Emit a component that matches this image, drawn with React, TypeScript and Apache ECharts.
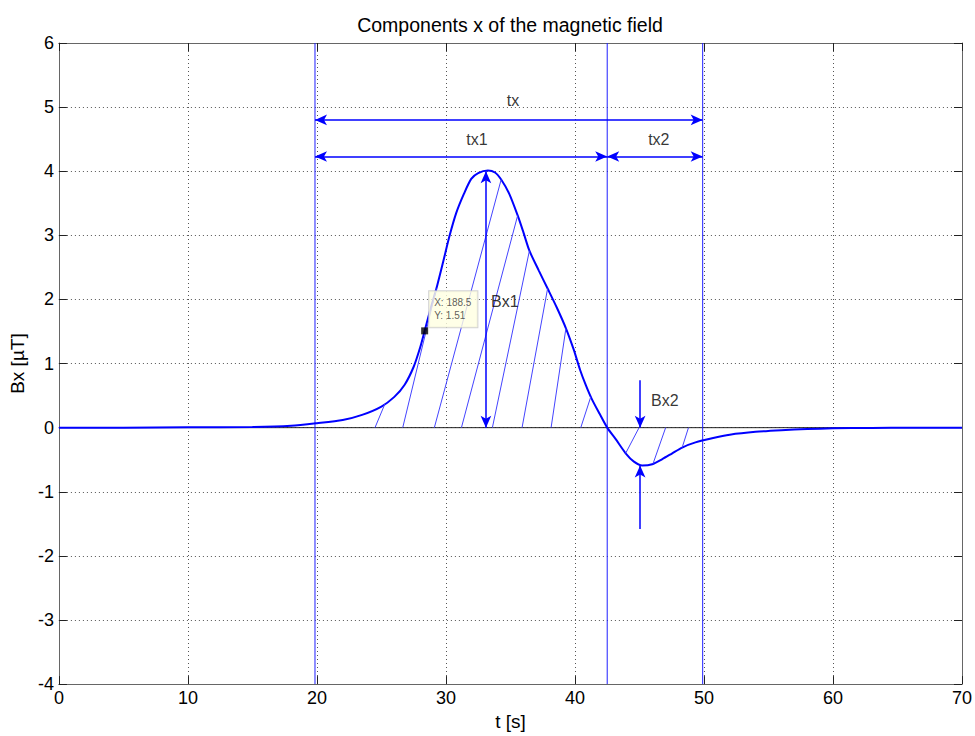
import React, { useEffect, useRef } from "react";
import * as echarts from "echarts";

// ---- data ----
const curveT = [0, 5, 10, 15, 18, 20, 22, 23.5, 25, 26, 26.8, 27.5, 28, 28.35, 28.8, 29.26, 29.8, 30.29, 30.8, 31.4, 31.96, 32.5, 33.25, 33.8, 34.28, 34.9, 35.56, 36.0, 36.47, 37.2, 37.88, 38.6, 39.3, 39.9, 40.4, 40.85, 41.3, 41.9, 42.5, 43.16, 43.93, 44.57, 45.22, 45.99, 46.77, 47.54, 48.31, 49.34, 50.63, 52.0, 54, 56, 58, 60, 63, 66, 70];
const curveB = [0, 0, 0.005, 0.01, 0.03, 0.07, 0.12, 0.2, 0.33, 0.48, 0.67, 0.95, 1.25, 1.51, 1.85, 2.17, 2.6, 3.0, 3.35, 3.65, 3.88, 3.97, 4.01, 3.98, 3.87, 3.65, 3.31, 3.05, 2.76, 2.45, 2.17, 1.87, 1.55, 1.22, 0.9, 0.66, 0.45, 0.22, 0.0, -0.18, -0.4, -0.53, -0.59, -0.57, -0.49, -0.4, -0.31, -0.23, -0.165, -0.11, -0.065, -0.04, -0.022, -0.01, -0.004, 0, 0];

const xTicks = [0, 10, 20, 30, 40, 50, 60, 70];
const yTicks = [-4, -3, -2, -1, 0, 1, 2, 3, 4, 5, 6];

// vertical marker lines (t)
const markerT = [19.85, 42.5, 49.9];

// horizontal double arrows: from t, to t, level B
const spanFrom = [19.85, 19.85, 42.5];
const spanTo = [49.9, 42.5, 49.9];
const spanLevel = [4.8, 4.23, 4.23];

// vertical arrows: t, fromB, toB, double-headed
const vArrowT = [33.1, 45.05, 45.05];
const vArrowFrom = [0, 0.74, -1.58];
const vArrowTo = [4.0, 0, -0.59];
const vArrowDouble = [true, false, false];

// hatch lines: start on zero line at t0, end on curve at t1
const hatchT0 = [24.5, 26.65, 29.1, 31.2, 33.6, 35.9, 38.15, 40.45, 44.97, 47.03, 48.8];
const hatchT1 = [25.27, 29.26, 34.28, 35.56, 36.47, 37.88, 39.3, 41.23, 43.93, 46.05, 48.31];

// annotation texts
const noteText = ["tx", "tx1", "tx2", "Bx1", "Bx2"];
const noteT = [35.2, 32.4, 46.5, 33.5, 45.9];
const noteB = [5.1, 4.5, 4.5, 1.97, 0.42];
const noteAlign = ["center", "center", "center", "left", "left"];

// data tip
const tipT = 28.35;
const tipB = 1.51;
const tipLabel = "X: 188.5\nY: 1.51";

const FONT = "'Liberation Sans', Arial, Helvetica, sans-serif";

function interp(t: number): number {
  for (let i = 0; i < curveT.length - 1; i++) {
    if (t >= curveT[i] && t <= curveT[i + 1]) {
      const f = (t - curveT[i]) / (curveT[i + 1] - curveT[i]);
      return curveB[i] + f * (curveB[i + 1] - curveB[i]);
    }
  }
  return 0;
}

export default function App() {
  const ref = useRef<HTMLDivElement>(null);
  useEffect(() => {
    if (!ref.current) return;
    const chart = echarts.init(ref.current, undefined, { renderer: "svg" });

    const curveData = curveT.map((t, i) => [t, curveB[i]]);

    const hatchLines = hatchT0.map((t0, i) => [
      { coord: [t0, 0] },
      { coord: [hatchT1[i], interp(hatchT1[i])] },
    ]);

    const spanLines = spanFrom.map((f, i) => [
      { coord: [f, spanLevel[i]] },
      { coord: [spanTo[i], spanLevel[i]] },
    ]);
    const vLines = vArrowT.map((t, i) => [
      { coord: [t, vArrowFrom[i]], symbol: vArrowDouble[i] ? "arrow" : "none" },
      { coord: [t, vArrowTo[i]], symbol: "arrow" },
    ]);

    const markerSeries = markerT.map((t, i) => ({
      name: "marker" + i,
      type: "line",
      data: [
        [t, -4],
        [t, 6],
      ],
      showSymbol: false,
      symbol: "none",
      silent: true,
      z: 3,
      color: "#1f1fff",
      lineStyle: { color: "#1f1fff", width: 1, type: "solid" },
    }));

    const axisCommonX = { type: "value" as const, min: 0, max: 70, interval: 10 };
    const axisCommonY = { type: "value" as const, min: -4, max: 6, interval: 1 };
    const axisLine = { show: true, onZero: false, lineStyle: { color: "#666", width: 1 } };
    const axisTick = { show: true, inside: true, length: 8, lineStyle: { color: "#222" } };
    const splitLine = { show: true, lineStyle: { color: "#555", type: [1, 3], width: 1 } };

    const option: any = {
      animation: false,
      backgroundColor: "#ffffff",
      textStyle: { fontFamily: FONT },
      grid: { left: 58, right: 11, top: 43, bottom: 48, containLabel: false },
      graphic: [
        {
          type: "text",
          x: 510,
          y: 25,
          style: {
            text: "Components x of the magnetic field",
            align: "center",
            verticalAlign: "middle",
            fontSize: 19.5,
            fontFamily: FONT,
            fill: "#000",
          },
        },
      ],
      xAxis: [
        {
          ...axisCommonX,
          position: "bottom",
          name: "t [s]",
          nameLocation: "middle",
          nameGap: 26,
          nameTextStyle: { fontSize: 19, color: "#000", fontFamily: FONT },
          axisLine,
          axisTick,
          axisLabel: {
            fontSize: 18,
            color: "#000",
            margin: 5,
            fontFamily: FONT,
            formatter: (v: number) => (xTicks.includes(v) ? String(v) : ""),
          },
          splitLine,
        },
        {
          ...axisCommonX,
          position: "top",
          axisLine,
          axisTick,
          axisLabel: { show: false },
          splitLine: { show: false },
        },
      ],
      yAxis: [
        {
          ...axisCommonY,
          position: "left",
          name: "Bx [\u00b5T]",
          nameLocation: "middle",
          nameGap: 28,
          nameTextStyle: { fontSize: 19, color: "#000", fontFamily: FONT },
          axisLine,
          axisTick,
          axisLabel: {
            fontSize: 18,
            color: "#000",
            margin: 5,
            fontFamily: FONT,
            formatter: (v: number) => (yTicks.includes(v) ? String(v) : ""),
          },
          splitLine,
        },
        {
          ...axisCommonY,
          position: "right",
          axisLine,
          axisTick,
          axisLabel: { show: false },
          splitLine: { show: false },
        },
      ],
      series: [
        {
          name: "zero",
          type: "line",
          data: [
            [0, 0],
            [70, 0],
          ],
          showSymbol: false,
          symbol: "none",
          z: 1,
          silent: true,
          color: "#222",
          lineStyle: { color: "#222", width: 1 },
        },
        {
          name: "hatch",
          type: "line",
          data: [],
          z: 2,
          silent: true,
          color: "#4444ff",
          markLine: {
            silent: true,
            symbol: "none",
            label: { show: false },
            lineStyle: { color: "#4444ff", width: 1, type: "solid" },
            emphasis: { disabled: true },
            data: hatchLines,
          },
        },
        ...markerSeries,
        {
          name: "Bx",
          type: "line",
          data: curveData,
          showSymbol: false,
          symbol: "none",
          smooth: 0.25,
          z: 4,
          color: "#0000ff",
          lineStyle: { color: "#0000ff", width: 2 },
        },
        {
          name: "arrows",
          type: "line",
          data: [],
          z: 5,
          silent: true,
          color: "#0000ff",
          markLine: {
            silent: true,
            symbol: ["arrow", "arrow"],
            symbolSize: [8, 12],
            label: { show: false },
            lineStyle: { color: "#0000ff", width: 1.5, type: "solid" },
            itemStyle: { color: "#0000ff" },
            emphasis: { disabled: true },
            data: [...spanLines, ...vLines],
          },
        },
        {
          name: "notes",
          type: "scatter",
          symbolSize: 0,
          z: 6,
          silent: true,
          data: noteText.map((txt, i) => ({
            name: txt,
            value: [noteT[i], noteB[i]],
            label: {
              show: true,
              position: "inside",
              formatter: txt,
              align: noteAlign[i],
              verticalAlign: "middle",
              fontSize: 16,
              color: "#000",
              fontFamily: FONT,
            },
          })),
        },
        {
          name: "tip",
          type: "scatter",
          symbol: "rect",
          symbolSize: 7,
          z: 7,
          silent: true,
          itemStyle: { color: "#000" },
          data: [
            {
              value: [tipT, tipB],
              label: {
                show: true,
                position: [8, -36],
                formatter: tipLabel,
                align: "left",
                verticalAlign: "top",
                fontSize: 10,
                lineHeight: 13,
                color: "#333",
                fontFamily: FONT,
                backgroundColor: "#ffffe1",
                borderColor: "#c8c8c8",
                borderWidth: 1,
                padding: [5, 6, 5, 5],
              },
            },
          ],
        },
      ],
    };

    chart.setOption(option);
    return () => chart.dispose();
  }, []);

  return (
    <div
      ref={ref}
      style={{ position: "fixed", left: 0, top: 0, width: 975, height: 736, background: "#fff" }}
    />
  );
}
